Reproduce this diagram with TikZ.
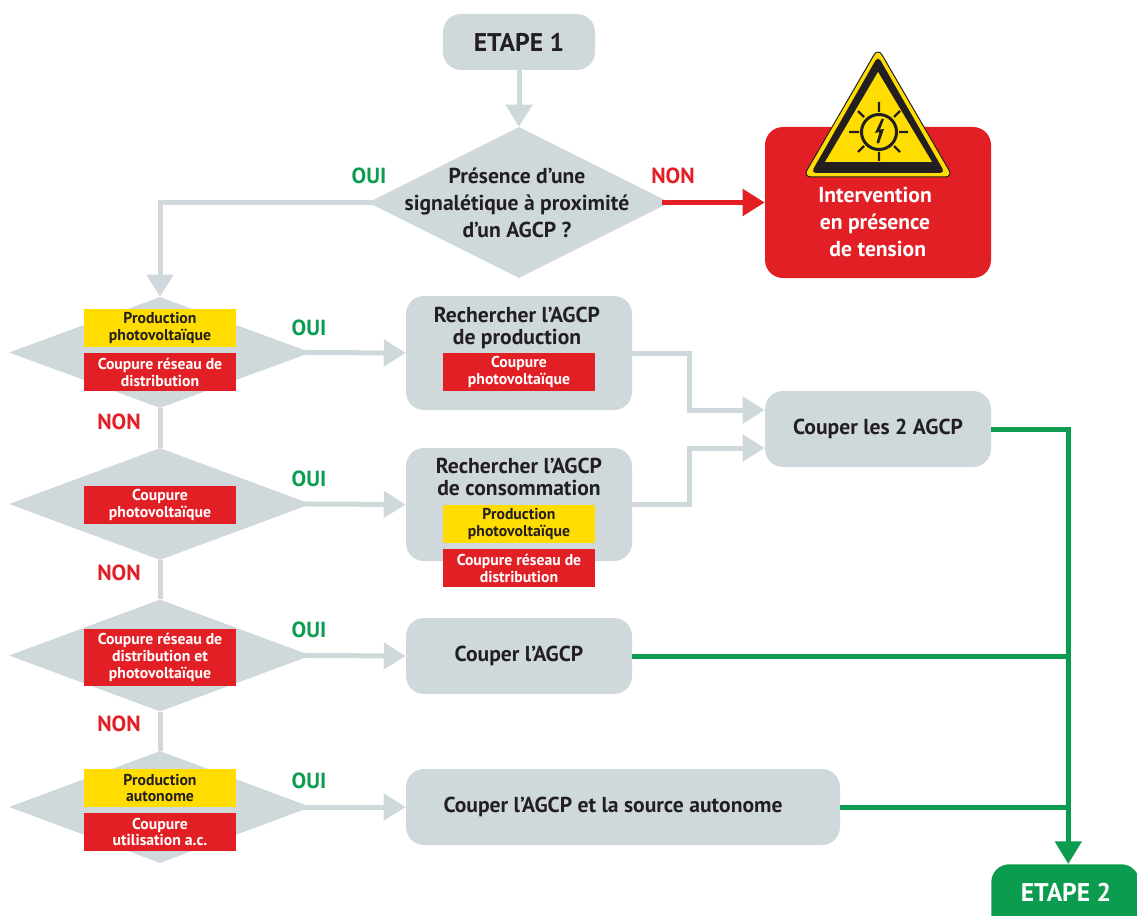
\documentclass[tikz,border=0pt]{standalone}
\usepackage{fontspec}
\setmainfont{PT Sans}
\usetikzlibrary{shapes.geometric,arrows.meta,calc}
\definecolor{gr}{HTML}{CFD9DC}
\definecolor{rd}{HTML}{E31F26}
\definecolor{ye}{HTML}{FFDD00}
\definecolor{gn}{HTML}{0B9C4F}
\definecolor{ink}{HTML}{231F20}
\newlength{\px}\setlength{\px}{0.75pt}
\tikzset{
 x=0.75pt,y=-0.75pt,
 box/.style={fill=gr,rounded corners=18*\px,inner sep=0pt,align=center,text=ink,font=\fontsize{16.2}{20}\selectfont\bfseries},
 dia/.style={diamond,fill=gr,inner sep=0pt,minimum width=302*\px,align=center,text=ink},
 tagr/.style={fill=rd,text=white,inner sep=0pt,minimum width=152*\px,align=center,font=\fontsize{11.8}{12.7}\selectfont\bfseries},
 tagy/.style={fill=ye,text=ink,inner sep=0pt,minimum width=152*\px,align=center,font=\fontsize{11.8}{12.7}\selectfont\bfseries},
 oui/.style={text=gn,font=\fontsize{16.4}{18}\selectfont\bfseries,inner sep=0pt},
 non/.style={text=rd,font=\fontsize{16.4}{18}\selectfont\bfseries,inner sep=0pt},
 wide/.style={text=ink,align=center,font=\fontsize{16.2}{20.2}\selectfont\bfseries},
 tight/.style={text=ink,align=center,font=\fontsize{16.2}{16.5}\selectfont\bfseries},
 big/.style={font=\fontsize{19.2}{22}\selectfont\bfseries},
 glink/.style={draw=gr,line width=5*\px},
 garrow/.style={glink,-{Triangle[length=16.5pt,width=19.5pt]}},
 fromtip/.style={shorten <=-6pt},
 rarrow/.style={draw=rd,line width=5*\px,-{Triangle[length=16.5pt,width=19.5pt]}},
 gnlink/.style={draw=gn,line width=5*\px},
 gnarrow/.style={gnlink,-{Triangle[length=17pt,width=19.5pt]}},
}
\begin{document}
\begin{tikzpicture}
\useasboundingbox (0,0) rectangle (1137,916);
% boxes
\node[box,big,minimum width=152*\px,minimum height=56*\px] (e1) at (519,42) {ETAPE 1};
\node[dia,minimum width=302*\px,minimum height=151*\px] (d0) at (519,202.5) {};
\node[wide] (d0t) at (517,203) {Présence d’une\\signalétique à proximité\\d’un AGCP ?};
\node[box,fill=rd,minimum width=226*\px,minimum height=151*\px] (int) at (878,202.5) {};
\node[wide,text=white] (intt) at (875,222) {Intervention\\en présence\\\ de tension};
% warning sign
\fill[ye,draw=ink,line width=1*\px,rounded corners=8*\px] (878,48) -- (953,177) -- (803,177) -- cycle;
\fill[ink,rounded corners=5*\px] (878,56) -- (945,173) -- (811,173) -- cycle;
\fill[ye] (878,72) -- (932,162) -- (825,162) -- cycle;
\draw[ink,line width=3*\px] (879,132) circle (17.5);
\draw[ink,line width=2.4*\px]
  (879,102)--(879,112) (879,152)--(879,161)
  (849,132)--(859,132) (899,132)--(908,132)
  (858,111)--(864,117) (900,111)--(894,117)
  (858,152)--(864,146) (900,152)--(894,146);
\fill[ink] (881.5,119) -- (875,133) -- (879.5,132) -- (876.5,143) -- (879,143.5) -- (884,129) -- (880,129.5) -- (884,119) -- cycle;
% decision column
\node[dia,minimum height=111*\px] (d1) at (160,352.5) {};
\node[dia,minimum height=112*\px] (d2) at (160,504) {};
\node[dia,minimum height=112*\px] (d3) at (160,655.5) {};
\node[dia,minimum height=112*\px] (d4) at (160,807) {};
\node[tagy,minimum height=38*\px] (t1a) at (160,328) {Production\\photovoltaïque};
\node[tagr,minimum height=38*\px] (t1b) at (160,372) {Coupure réseau de\\distribution};
\node[tagr,minimum height=38*\px] (t2) at (160,505) {Coupure\\photovoltaïque};
\node[tagr,minimum height=57*\px] (t3) at (160,657.5) {Coupure réseau de\\distribution et\\photovoltaïque};
\node[tagy,minimum height=38*\px] (t4a) at (160,788) {Production\\autonome};
\node[tagr,minimum height=38*\px] (t4b) at (160,832) {Coupure\\utilisation a.c.};
% action boxes
\node[box,minimum width=226*\px,minimum height=114*\px] (p) at (519,353) {};
\node[tight] (pt) at (517,327.5) {Rechercher l’AGCP\\de production};
\node[tagr,minimum height=38*\px] (pa) at (519,372) {Coupure\\photovoltaïque};
\node[box,minimum width=226*\px,minimum height=113*\px] (c) at (519,504.5) {};
\node[tight] (ct) at (519,477) {Rechercher l’AGCP\\de consommation};
\node[tagy,minimum height=38*\px] (ca) at (519,524) {Production\\photovoltaïque};
\node[tagr,minimum height=38*\px] (cb) at (519,568) {Coupure réseau de\\distribution};
\node[box,minimum width=226*\px,minimum height=76*\px] (a) at (519,656) {Couper l’AGCP};
\node[box,minimum width=434*\px,minimum height=76*\px] (s) at (623,807) {};
\node[wide,inner sep=0pt] (st) at (613,807) {Couper l’AGCP et la source autonome};
\node[box,minimum width=226*\px,minimum height=76*\px] (two) at (878,429) {Couper les 2 AGCP};
\node[box,fill=gn,text=white,minimum width=148*\px,minimum height=70*\px,anchor=north west] (e2) at (991,864) {};
\node[text=white,inner sep=0pt,big] (e2t) at (1066,892) {ETAPE 2};
% labels
\node[oui] (o0) at (369,176) {OUI};
\node[non] (n0) at (673,176) {NON};
\node[oui] (o1) at (309,328) {OUI};
\node[oui] (o2) at (309,479) {OUI};
\node[oui] (o3) at (309,630) {OUI};
\node[oui] (o4) at (309,781) {OUI};
\node[non] (n1) at (119,422) {NON};
\node[non] (n2) at (119,573) {NON};
\node[non] (n3) at (119,724) {NON};
% connectors
\coordinate (two1) at ($(two.west)+(0,-19)$);
\coordinate (two2) at ($(two.west)+(0,19)$);
\coordinate (bus) at ($(two.east)+(77,0)$);
\coordinate (pj) at ($(p.east)+(57,0)$);
\coordinate (cj) at ($(c.east)+(57,0)$);
\draw[garrow] (e1.south) -- (d0.north);
\draw[garrow,fromtip] (d0.west) -| (d1.north);
\draw[rarrow,fromtip] (d0.east) -- (int.west);
\draw[glink] (d1.south) -- (d2.north);
\draw[glink] (d2.south) -- (d3.north);
\draw[glink] (d3.south) -- (d4.north);
\draw[garrow,fromtip] (d1.east) -- (p.west);
\draw[garrow,fromtip] (d2.east) -- (c.west);
\draw[garrow,fromtip] (d3.east) -- (a.west);
\draw[garrow,fromtip] (d4.east) -- (s.west);
\draw[garrow] (p.east) -- (pj) |- (two1);
\draw[garrow] (c.east) -- (cj) |- (two2);
\draw[gnlink] (a.east) -- (bus |- a.east);
\draw[gnlink] (s.east) -- (bus |- s.east);
\draw[gnarrow] (two.east) -- (bus) -- (bus |- e2.north);
\end{tikzpicture}
\end{document}
